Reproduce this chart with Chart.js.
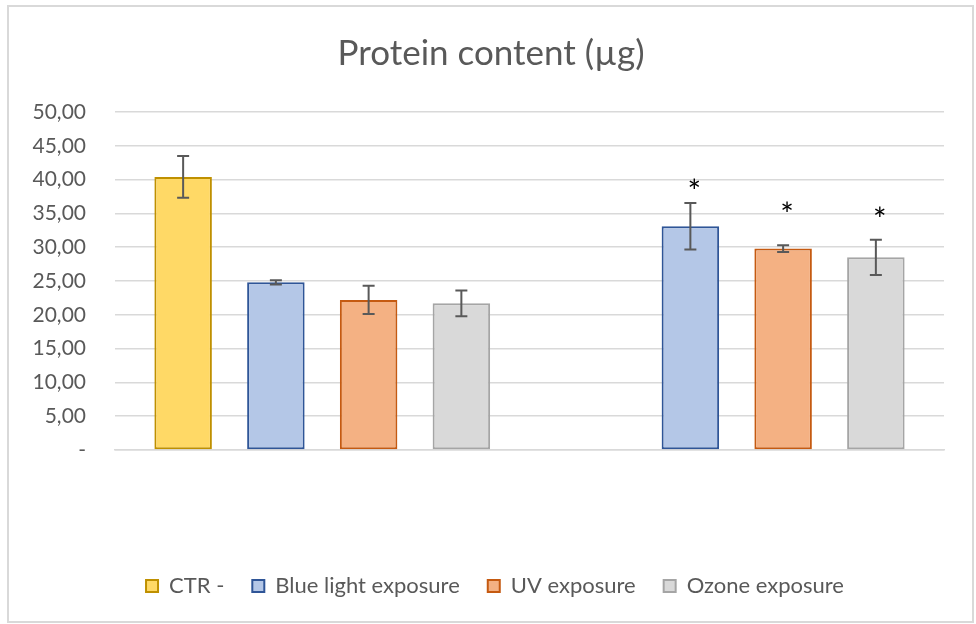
<!DOCTYPE html>
<html>
<head>
<meta charset="utf-8">
<script src="https://cdn.jsdelivr.net/npm/chart.js@4.4.1/dist/chart.umd.min.js"></script>
<style>
  body { margin: 0; background: #fff; }
  #wrap { position: relative; width: 976px; height: 624px; }
  #marco { position: absolute; left: 7px; top: 5px; width: 963px; height: 614px; border: 2px solid #d9d9d9; }
  canvas { position: absolute; left: 0; top: 0; }
</style>
</head>
<body>
<div id="wrap">
  <div id="marco"></div>
  <canvas id="grafico" width="976" height="624"></canvas>
</div>
<script>
// datos
const categorias = ["", ""];
const ctrMedias = [40.4, null];
const ctrError = [3.1, null];
const azulMedias = [24.8, 33.1];
const azulError = [0.3, 3.45];
const uvMedias = [22.2, 29.8];
const uvError = [2.1, 0.5];
const ozonoMedias = [21.7, 28.5];
const ozonoError = [1.9, 2.6];
// asteriscos de significancia (altura en unidades del eje)
const azulSig = [null, 39.2];
const uvSig = [null, 35.8];
const ozonoSig = [null, 35.1];
const etiquetasY = ["-", "5,00", "10,00", "15,00", "20,00", "25,00", "30,00", "35,00", "40,00", "45,00", "50,00"];

const gris = "#595959";
const fuente = "Lato, 'Open Sans', sans-serif";

// barras de error y asteriscos
const errorBars = {
  id: "errorBars",
  afterDatasetsDraw(chart) {
    const ctx = chart.ctx;
    const y = chart.scales.y;
    chart.data.datasets.forEach((ds, i) => {
      const meta = chart.getDatasetMeta(i);
      meta.data.forEach((bar, j) => {
        const v = ds.data[j];
        if (v == null) return;
        const e = ds.errores[j];
        const x = bar.x;
        const top = y.getPixelForValue(v + e);
        const bot = y.getPixelForValue(v - e);
        ctx.save();
        ctx.strokeStyle = gris;
        ctx.lineWidth = 2;
        ctx.beginPath();
        ctx.moveTo(x, top); ctx.lineTo(x, bot);
        ctx.moveTo(x - 6, top); ctx.lineTo(x + 6, top);
        ctx.moveTo(x - 6, bot); ctx.lineTo(x + 6, bot);
        ctx.stroke();
        const s = ds.sig ? ds.sig[j] : null;
        if (s != null) {
          ctx.fillStyle = "#000";
          ctx.font = "32px " + fuente;
          ctx.textAlign = "center";
          ctx.textBaseline = "alphabetic";
          ctx.fillText("*", x + 4, y.getPixelForValue(s) + 18);
        }
        ctx.restore();
      });
    });
  }
};

// título y leyenda van centrados en todo el marco, no solo en el área del gráfico
const centrarCajas = {
  id: "centrarCajas",
  afterLayout(chart) {
    const lg = chart.legend;
    if (lg) { lg.left += 23; lg.right += 23; }
    const tb = chart.titleBlock;
    if (tb) { tb.left += 19; tb.right += 19; }
  }
};

const ctx = document.getElementById("grafico").getContext("2d");
const chart = new Chart(ctx, {
  type: "bar",
  data: {
    labels: categorias,
    datasets: [
      { label: "CTR -", data: ctrMedias, errores: ctrError, backgroundColor: "#ffd966", borderColor: "#bf9000" },
      { label: "Blue light exposure", data: azulMedias, errores: azulError, sig: azulSig, backgroundColor: "#b4c7e7", borderColor: "#2f5597" },
      { label: "UV exposure", data: uvMedias, errores: uvError, sig: uvSig, backgroundColor: "#f4b183", borderColor: "#c55a11" },
      { label: "Ozone exposure", data: ozonoMedias, errores: ozonoError, sig: ozonoSig, backgroundColor: "#d9d9d9", borderColor: "#a5a5a5" }
    ]
  },
  options: {
    responsive: false,
    animation: false,
    layout: { padding: { left: 0, right: 32, top: 0, bottom: 17 } },
    datasets: {
      bar: { borderWidth: 2, borderSkipped: false, categoryPercentage: 0.895, barPercentage: 0.62 }
    },
    plugins: {
      title: {
        display: true,
        text: "Protein content (µg)",
        color: gris,
        font: { family: fuente, size: 35, weight: "normal" },
        padding: { top: 33, bottom: 37 }
      },
      legend: {
        position: "bottom",
        labels: {
          color: gris,
          font: { family: fuente, size: 22 },
          boxWidth: 12,
          boxHeight: 12,
          padding: 28
        }
      },
      tooltip: { enabled: false }
    },
    scales: {
      x: {
        ticks: { display: false },
        grid: { display: false },
        border: { color: "#d9d9d9", width: 1.5 },
        afterFit(axis) { axis.height = 97; }
      },
      y: {
        min: 0,
        max: 50,
        ticks: {
          stepSize: 5,
          color: gris,
          font: { family: fuente, size: 21 },
          padding: 29,
          callback: (v) => etiquetasY[Math.round(v / 5)]
        },
        grid: { color: "#d9d9d9", lineWidth: 1.5, drawTicks: false },
        border: { display: false },
        afterFit(axis) { axis.width = 115; }
      }
    }
  },
  plugins: [errorBars, centrarCajas]
});
</script>
</body>
</html>
